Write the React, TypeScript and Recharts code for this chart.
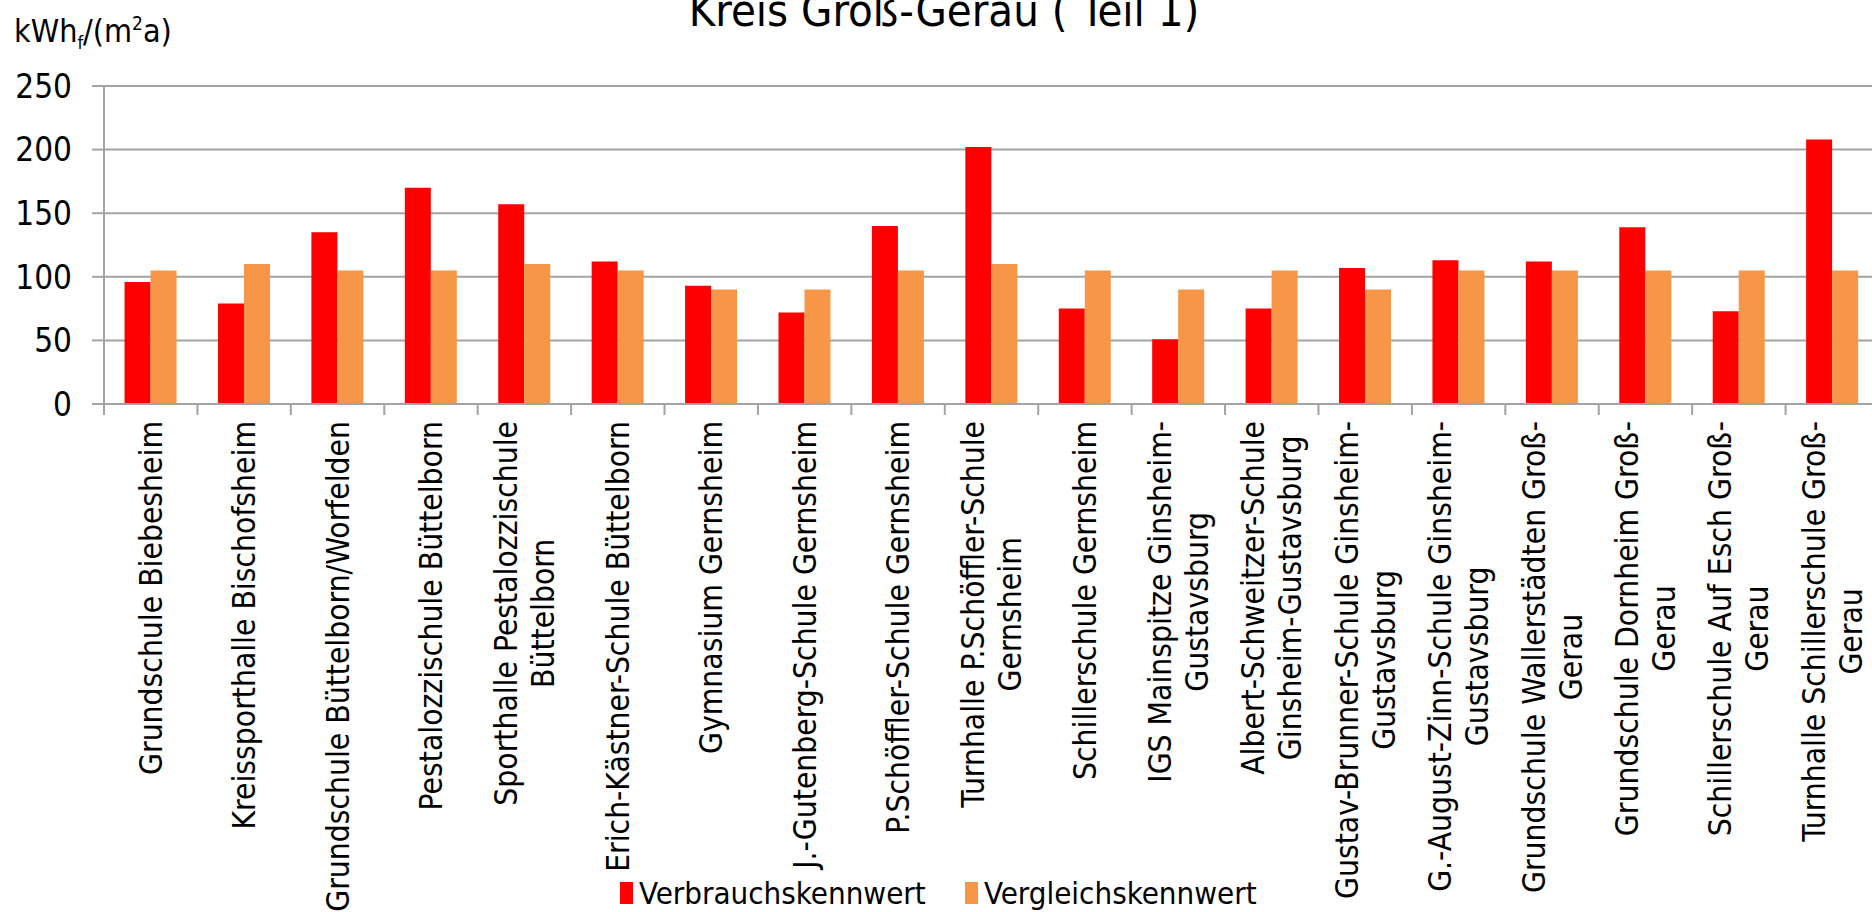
import React from "react";
import { BarChart, Bar, XAxis, YAxis, CartesianGrid } from "recharts";

// Kreis Groß-Gerau (Teil 1) - Energiekennwerte der Schulen
const schools = [
  "Grundschule Biebesheim",
  "Kreissporthalle Bischofsheim",
  "Grundschule Büttelborn/Worfelden",
  "Pestalozzischule Büttelborn",
  "Sporthalle Pestalozzischule\nBüttelborn",
  "Erich-Kästner-Schule Büttelborn",
  "Gymnasium Gernsheim",
  "J.-Gutenberg-Schule Gernsheim",
  "P.Schöffler-Schule Gernsheim",
  "Turnhalle P.Schöffler-Schule\nGernsheim",
  "Schillerschule Gernsheim",
  "IGS Mainspitze Ginsheim-\nGustavsburg",
  "Albert-Schweitzer-Schule\nGinsheim-Gustavsburg",
  "Gustav-Brunner-Schule Ginsheim-\nGustavsburg",
  "G.-August-Zinn-Schule Ginsheim-\nGustavsburg",
  "Grundschule Wallerstädten Groß-\nGerau",
  "Grundschule Dornheim Groß-\nGerau",
  "Schillerschule Auf Esch Groß-\nGerau",
  "Turnhalle Schillerschule Groß-\nGerau",
];

const verbrauch = [96, 79, 135, 170, 157, 112, 93, 72, 140, 202, 75, 51, 75, 107, 113, 112, 139, 73, 208];
const vergleich = [105, 110, 105, 105, 110, 105, 90, 90, 105, 110, 105, 90, 105, 90, 105, 105, 105, 105, 105];

const yTicks = [0, 50, 100, 150, 200, 250];

const data = schools.map((name, i) => ({
  name,
  verbrauch: verbrauch[i],
  vergleich: vergleich[i],
}));

const FONT = "'DejaVu Sans Condensed', 'DejaVu Sans', sans-serif";
const RED = "#FF0000";
const ORANGE = "#F79646";
const GRID = "#A3A3A3";

const CHART_W = 1879;
const CHART_H = 912;
const TOP = 86;
const PLOT_H = 318;
const Y_W = 104;
const PLOT_W = CHART_W - Y_W;
const BAND = PLOT_W / schools.length;
const LABEL_SIZE = 31.5;
const LINE_H = 37;

let ctx: CanvasRenderingContext2D | null = null;
function measure(s: string) {
  if (!ctx) ctx = document.createElement("canvas").getContext("2d");
  if (!ctx) return s.length * LABEL_SIZE * 0.5;
  ctx.font = `${LABEL_SIZE}px ${FONT}`;
  return ctx.measureText(s).width;
}

const XTick = (props: any) => {
  const { x, y, payload, index } = props;
  const lines = String(payload.value).split("\n");
  const maxW = Math.max(...lines.map(measure));
  const n = lines.length;
  const left = x - BAND / 2;
  return (
    <g>
      <line x1={left} y1={y} x2={left} y2={y + 11} stroke={GRID} strokeWidth={2} />
      {index === schools.length - 1 && (
        <line x1={x + BAND / 2} y1={y} x2={x + BAND / 2} y2={y + 11} stroke={GRID} strokeWidth={2} />
      )}
      <g transform={`translate(${x},${y + 17}) rotate(-90)`}>
        {lines.map((l, i) => (
          <text
            key={i}
            x={-maxW / 2}
            y={(i - (n - 1) / 2) * LINE_H}
            textAnchor="middle"
            dominantBaseline="central"
            fontFamily={FONT}
            fontSize={LABEL_SIZE}
            fill="#000"
          >
            {l}
          </text>
        ))}
      </g>
    </g>
  );
};

export default function App() {
  return (
    <div
      style={{
        position: "absolute",
        left: 0,
        top: 0,
        width: 1872,
        height: 912,
        overflow: "hidden",
        background: "#fff",
        fontFamily: FONT,
      }}
    >
      <div
        style={{
          position: "absolute",
          left: 0,
          width: 1888,
          top: -13,
          textAlign: "center",
          fontSize: 45,
          lineHeight: "48px",
          color: "#000",
          whiteSpace: "nowrap",
        }}
      >
        Kreis Groß-Gerau ( Teil 1)
      </div>
      <div
        style={{
          position: "absolute",
          left: 14,
          top: 6,
          fontSize: 32,
          lineHeight: "34px",
          color: "#000",
          whiteSpace: "nowrap",
        }}
      >
        kWh<sub style={{ fontSize: 18 }}>f</sub>/(m<sup style={{ fontSize: 19 }}>2</sup>a)
      </div>

      <BarChart
        width={CHART_W}
        height={CHART_H}
        data={data}
        margin={{ top: TOP, right: 0, bottom: 0, left: 0 }}
        barCategoryGap="22%"
        barGap={0}
      >
        <CartesianGrid vertical={false} stroke={GRID} strokeWidth={2} />
        <XAxis
          dataKey="name"
          interval={0}
          height={CHART_H - TOP - PLOT_H}
          axisLine={{ stroke: GRID, strokeWidth: 2 }}
          tickLine={false}
          tickSize={0}
          tickMargin={0}
          tick={<XTick />}
        />
        <YAxis
          width={Y_W}
          domain={[0, 250]}
          ticks={yTicks}
          interval={0}
          axisLine={{ stroke: GRID, strokeWidth: 2 }}
          tickLine={{ stroke: GRID, strokeWidth: 2 }}
          tickSize={12}
          tickMargin={20}
          tick={{ fill: "#000", fontSize: 33, fontFamily: FONT }}
        />
        <Bar dataKey="verbrauch" name="Verbrauchskennwert" fill={RED} isAnimationActive={false} />
        <Bar dataKey="vergleich" name="Vergleichskennwert" fill={ORANGE} isAnimationActive={false} />
      </BarChart>

      <div style={{ position: "absolute", top: 877, left: 620, height: 32, fontSize: 31, lineHeight: "32px", whiteSpace: "nowrap" }}>
        <span style={{ position: "absolute", left: 0, top: 5, width: 13, height: 22, background: RED }} />
        <span style={{ position: "absolute", left: 19, top: 0 }}>Verbrauchskennwert</span>
        <span style={{ position: "absolute", left: 345, top: 5, width: 13, height: 22, background: ORANGE }} />
        <span style={{ position: "absolute", left: 364, top: 0 }}>Vergleichskennwert</span>
      </div>
    </div>
  );
}
